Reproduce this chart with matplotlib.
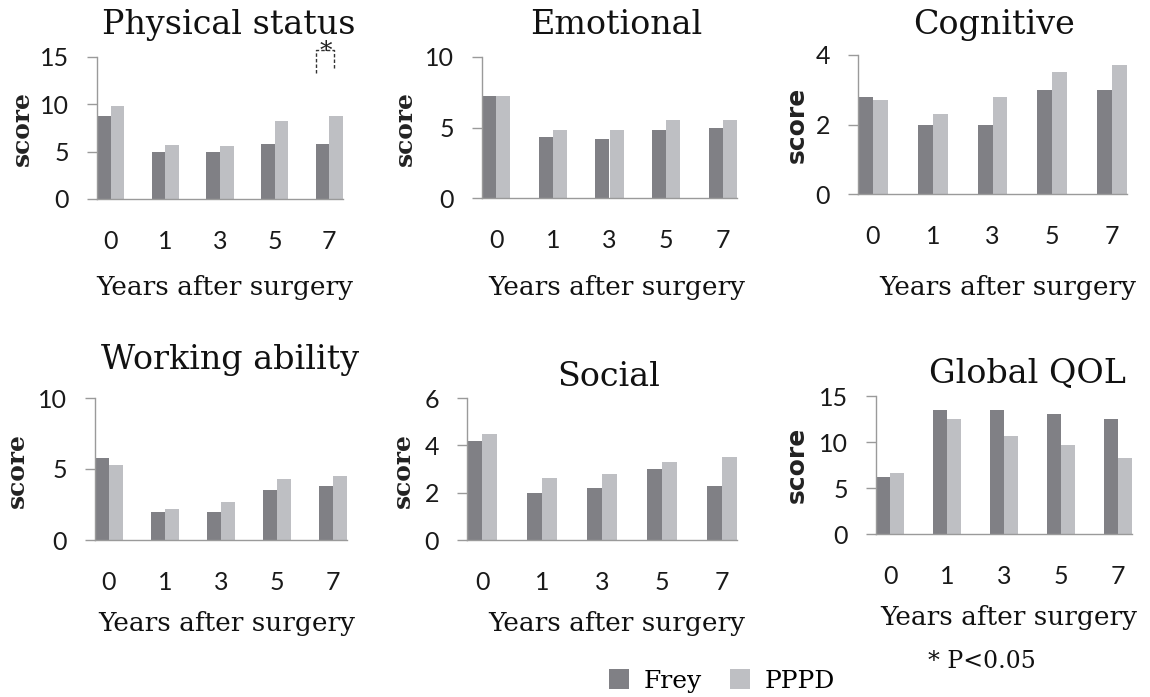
import numpy as np
import matplotlib
matplotlib.use("Agg")
import matplotlib.pyplot as plt

years = ["0", "1", "3", "5", "7"]

physical_frey = [8.8, 5.0, 5.0, 5.8, 5.8]
physical_pppd = [9.8, 5.7, 5.6, 8.2, 8.8]
emotional_frey = [7.2, 4.3, 4.2, 4.8, 5.0]
emotional_pppd = [7.2, 4.8, 4.8, 5.5, 5.5]
cognitive_frey = [2.8, 2.0, 2.0, 3.0, 3.0]
cognitive_pppd = [2.7, 2.3, 2.8, 3.5, 3.7]
working_frey = [5.8, 2.0, 2.0, 3.5, 3.8]
working_pppd = [5.3, 2.2, 2.7, 4.3, 4.5]
social_frey = [4.2, 2.0, 2.2, 3.0, 2.3]
social_pppd = [4.5, 2.6, 2.8, 3.3, 3.5]
global_frey = [6.2, 13.5, 13.5, 13.0, 12.5]
global_pppd = [6.6, 12.5, 10.6, 9.7, 8.3]

FREY = "#808085"
PPPD = "#bebfc3"
AXC = "#9a9a9a"
W, H = 1150, 697

fig = plt.figure(figsize=(W / 100, H / 100), dpi=100)

# title, frey, pppd, ymax, yticks, axes box (px: left, right, bottom, top),
# title pos, xlabel pos, ylabel pos, sans ylabel
panels = [
    ("Physical status", physical_frey, physical_pppd, 15, [0, 5, 10, 15],
     (97, 343, 199, 57), (229, 25), (225, 288), (22, 129), False),
    ("Emotional", emotional_frey, emotional_pppd, 10, [0, 5, 10],
     (482, 737, 198, 57), (616, 25), (617, 288), (405, 128), False),
    ("Cognitive", cognitive_frey, cognitive_pppd, 4, [0, 2, 4],
     (858, 1127, 194, 55), (994, 25), (1008, 287), (797, 125), True),
    ("Working ability", working_frey, working_pppd, 10, [0, 5, 10],
     (95, 347, 540, 398), (230, 360), (227, 623), (17, 470), False),
    ("Social", social_frey, social_pppd, 6, [0, 2, 4, 6],
     (467, 737, 540, 398), (609, 377), (617, 623), (403, 470), False),
    ("Global QOL", global_frey, global_pppd, 15, [0, 5, 10, 15],
     (876, 1132, 534, 396), (1027, 373), (1009, 618), (797, 465), True),
]

x = np.arange(len(years))
bw = 0.25
handles = None
axes = []
for title, frey, pppd, ymax, yt, box, tpos, xlpos, ylpos, sans in panels:
    l, r, b, t = box
    ax = fig.add_axes([l / W, 1 - b / H, (r - l) / W, (b - t) / H])
    b1 = ax.bar(x - bw / 2, frey, bw, color=FREY, label="Frey")
    b2 = ax.bar(x + bw / 2, pppd, bw, color=PPPD, label="PPPD")
    handles = [b1, b2]
    ax.set_xlim(-0.25, 4.25)
    ax.set_ylim(0, ymax)
    ax.set_xticks(x)
    ax.set_xticklabels(years)
    ax.set_yticks(yt)
    for s in ["top", "right"]:
        ax.spines[s].set_visible(False)
    for s in ["left", "bottom"]:
        ax.spines[s].set_color(AXC)
        ax.spines[s].set_linewidth(1.0)
    ax.tick_params(axis="x", length=0, pad=22, labelsize=18, colors="#1a1a1a")
    ax.tick_params(axis="y", length=7, width=1, color=AXC, pad=13,
                   labelsize=18, labelcolor="#1a1a1a")
    for lab in ax.get_xticklabels() + ax.get_yticklabels():
        lab.set_fontfamily("Lato")
    fig.text(tpos[0] / W, 1 - tpos[1] / H, title, family="DejaVu Serif",
             fontsize=24, ha="center", va="center", color="#111111")
    fig.text(xlpos[0] / W, 1 - xlpos[1] / H, "Years after surgery",
             family="DejaVu Serif", fontsize=19, ha="center", va="center",
             color="#111111")
    fig.text(ylpos[0] / W, 1 - ylpos[1] / H, "score",
             family="DejaVu Sans" if sans else "DejaVu Serif",
             fontweight="bold", fontsize=18, rotation=90,
             ha="center", va="center", color="#222222")
    axes.append(ax)

# significance bracket at year 7, physical status
ax = axes[0]
sig_x = [3.76, 3.76, 4.09, 4.09]
sig_y = [13.3, 15.7, 15.7, 13.6]
ax.plot(sig_x, sig_y, ls=(0, (2.5, 1.5)), color="#333333", lw=1.0, clip_on=False)
ax.text(3.94, 15.6, "*", ha="center", va="center", fontsize=18,
        family="DejaVu Serif", color="#222222", clip_on=False)

fig.legend(handles, ["Frey", "PPPD"], loc="center",
           bbox_to_anchor=(722 / W, 1 - 681 / H), ncol=2, frameon=False,
           handlelength=0.8, handleheight=0.8, handletextpad=0.6,
           columnspacing=1.1, prop={"family": "DejaVu Serif", "size": 18})
fig.text(982 / W, 1 - 661 / H, "* P<0.05", family="DejaVu Serif",
         fontsize=17, ha="center", va="center", color="#111111")

fig.savefig("out.png", dpi=100)
